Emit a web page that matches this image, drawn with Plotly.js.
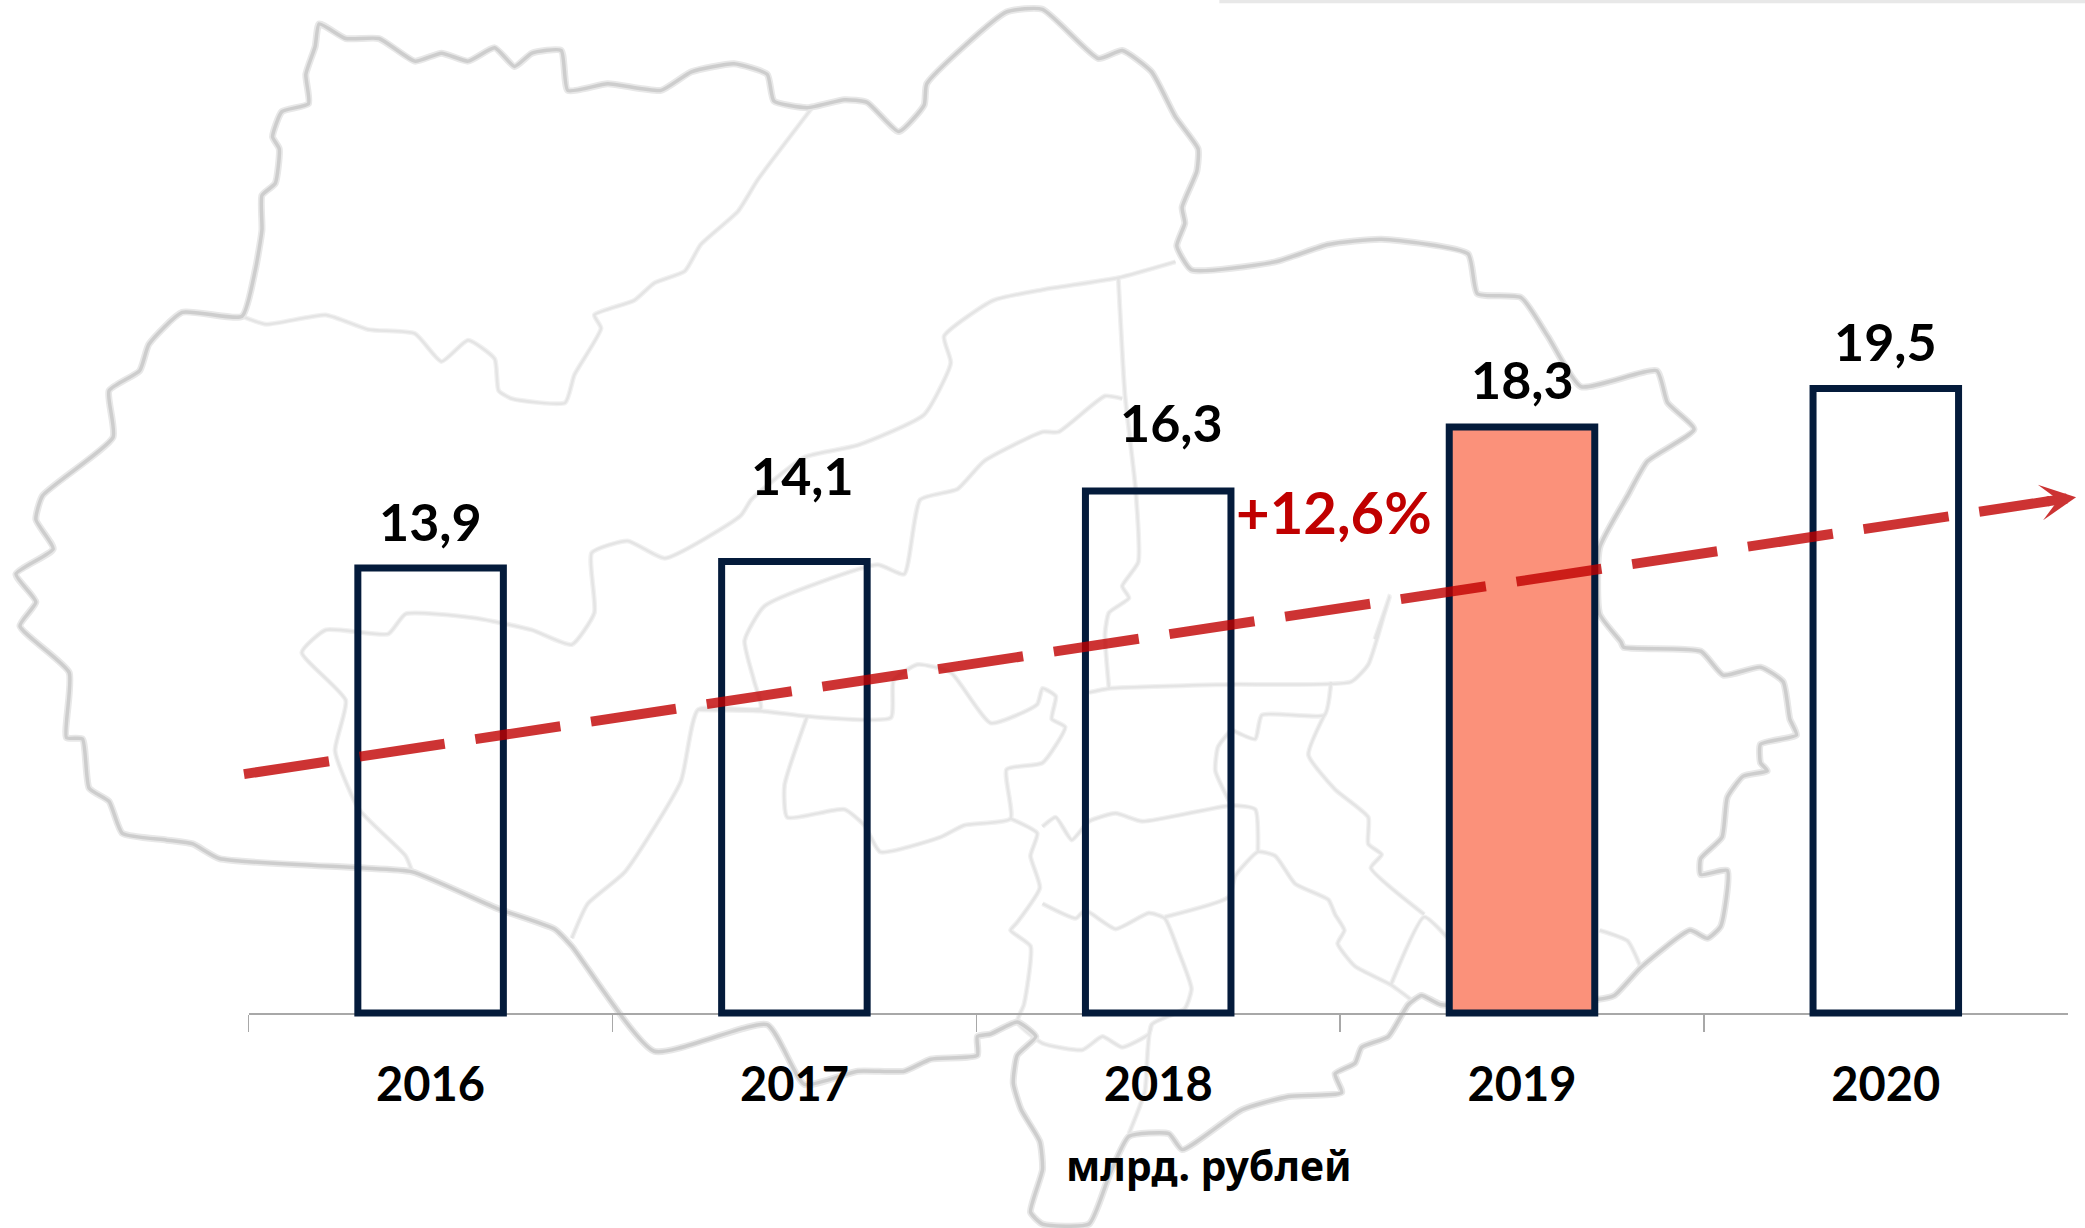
<!DOCTYPE html>
<html><head><meta charset="utf-8">
<script src="https://cdn.plot.ly/plotly-3.0.0.min.js"></script>
<style>html,body{margin:0;padding:0;background:#fff}#c{width:2085px;height:1228px}</style>
</head><body><div id="c"></div>
<script>
const years = ['2016','2017','2018','2019','2020'];
const values = [13.9,14.1,16.3,18.3,19.5];
const barFills = ['rgba(0,0,0,0)','rgba(0,0,0,0)','rgba(0,0,0,0)','#fb917a','rgba(0,0,0,0)'];
const labelLift = [47,87,69,48,48];
const labelNudge = [0,8,13,0,0];
const unitLabel = 'млрд. рублей';
const growthLabel = '+12,6%';
const trendX = [-0.513,4.451];
const trendY = [7.46,15.99];
const arrowTail = [4.44,15.97];
const arrowTip = [4.523,16.11];

// Background map outline, in the units of the 1568x924 picture
const mapOuter = [[240,18],[260,29],[285,29],[312,46],[332,40],[352,46],[372,36],[387,50],[400,40],[422,38],[427,68],[457,63],[497,68],[520,54],[552,48],[577,56],[582,76],[607,81],[635,75],[652,77],[676,99],[695,79],[697,63],[757,9],[784,7],[826,44],[844,38],[866,54],[884,88],[901,112],[900,129],[889,156],[891,168],[885,185],[896,203],[959,197],[999,184],[1039,180],[1104,191],[1111,221],[1144,224],[1164,253],[1189,291],[1246,279],[1254,303],[1274,323],[1239,347],[1224,373],[1203,412],[1203,462],[1219,483],[1221,487],[1279,490],[1296,508],[1324,502],[1341,513],[1346,541],[1351,553],[1324,560],[1324,574],[1329,580],[1311,584],[1299,600],[1295,630],[1279,646],[1279,658],[1299,655],[1294,697],[1284,706],[1271,700],[1234,728],[1214,749],[1201,752],[1084,756],[1069,749],[1059,756],[1044,780],[1024,788],[1019,800],[1004,808],[1009,822],[969,825],[934,835],[889,865],[879,853],[849,855],[834,885],[819,921],[784,921],[775,912],[784,880],[782,859],[768,835],[762,815],[765,794],[779,780],[765,769],[745,778],[735,780],[735,794],[700,797],[680,806],[645,806],[605,816],[577,771],[492,791],[430,712],[417,699],[375,684],[310,656],[270,653],[165,646],[145,635],[125,632],[92,627],[82,603],[67,593],[62,556],[50,555],[52,506],[15,471],[27,453],[12,432],[40,413],[27,391],[32,373],[85,329],[82,294],[105,279],[112,259],[137,235],[182,238],[192,203],[197,173],[197,147],[207,138],[210,112],[205,103],[212,84],[232,78],[230,56],[237,35],[240,18]];
const mapInnerA = [[182,238],[200,244],[245,237],[277,248],[312,251],[332,272],[352,256],[372,270],[375,294],[385,300],[425,303],[432,282],[452,247],[447,237],[477,226],[492,213],[515,204],[527,184],[555,159],[570,135],[610,82]];
const mapInnerB = [[884,197],[841,209],[784,218],[747,226],[710,253],[715,273],[695,312],[645,335],[605,344],[565,376],[557,388],[500,420],[472,407],[445,416],[447,461],[430,485],[400,474],[357,465],[305,462],[292,477],[245,474],[227,491],[260,527],[252,565],[270,609],[305,644],[310,656]];
const mapInnerC = [[841,209],[846,297],[854,368],[856,423],[844,441],[849,450],[834,461],[831,477],[834,518]];
const mapInnerD = [[819,521],[834,518],[924,515],[1016,513],[1029,500],[1041,462],[1045,449],[1034,481]];
const mapInnerE = [[844,300],[831,298],[796,325],[784,325],[740,347],[720,368],[692,376],[680,432],[660,425],[575,456],[560,482],[567,512],[572,533],[525,534],[512,588],[470,656],[442,680],[430,706]];
const mapInnerF = [[525,534],[572,535],[607,539],[670,540],[672,512],[690,500],[715,506],[745,544],[780,530],[784,518],[794,524],[791,541],[801,547],[784,574],[757,579],[760,616],[725,621],[707,630],[662,641],[650,621],[635,609],[592,615],[590,591],[607,539]];
const mapInnerG = [[760,616],[780,627],[775,644],[782,668],[765,694],[760,700],[775,712],[770,756],[765,769],[784,785],[814,790],[829,780],[844,788],[864,778],[866,771]];
const mapInnerH = [[784,680],[809,691],[816,685],[839,699],[864,687],[876,691],[886,715],[896,744],[891,759],[866,771],[861,821],[849,853]];
const mapInnerI = [[876,690],[924,675],[929,659],[946,641],[959,644],[974,665],[999,677],[1004,688],[1011,700],[1006,710],[1019,727],[1046,741],[1061,752]];
const mapInnerJ = [[1046,741],[1071,690],[1089,706]];
const mapInnerK = [[946,641],[944,609],[926,606],[859,618],[839,612],[819,618],[806,632],[794,615],[784,622]];
const mapInnerL = [[926,549],[916,562],[914,580],[926,606]];
const mapInnerM = [[926,549],[944,556],[949,538],[996,538],[1001,513]];
const mapInnerN = [[996,538],[984,568],[1004,594],[1029,615],[1029,635],[1039,643],[1031,653],[1071,688]];
const mapInnerO = [[1203,700],[1224,708],[1234,728]];
const topStrip = [[917,1],[1568,1]];

const inner = [mapInnerA,mapInnerB,mapInnerC,mapInnerD,mapInnerE,mapInnerF,mapInnerG,mapInnerH,mapInnerI,mapInnerJ,mapInnerK,mapInnerL,mapInnerM,mapInnerN,mapInnerO];
const mapTrace = (pts,color,width,shape) => ({type:'scatter',mode:'lines',x:pts.map(p=>p[0]),y:pts.map(p=>p[1]),xaxis:'x',yaxis:'y',
  line:{color,width,shape:shape||'spline',smoothing:0.5},hoverinfo:'skip',showlegend:false});

const traces = [];
inner.forEach(p=>traces.push(mapTrace(p,'#f1f1f1',5)));
inner.forEach(p=>traces.push(mapTrace(p,'#e4e4e4',2.5)));
traces.push(mapTrace(mapOuter,'#e8e8e8',7));
traces.push(mapTrace(mapOuter,'#cdcdcd',3.5));
traces.push(mapTrace(topStrip,'#e8e8e8',4,'linear'));

traces.push({type:'bar',x:years,y:values,xaxis:'x2',yaxis:'y2',showlegend:false,hoverinfo:'skip',
  marker:{color:barFills,line:{color:'#041b3b',width:7}}});
traces.push({type:'scatter',mode:'lines',x:trendX,y:trendY,xaxis:'x3',yaxis:'y3',showlegend:false,hoverinfo:'skip',
  line:{color:'rgba(192,0,0,0.8)',width:10,dash:'86px,31px'}});

const FONT = 'Lato, "Noto Sans", sans-serif';
const W=2085,H=1228,PX=32.02,BASE=1013,AX0=248.7,AX1=2067.7;
const CAT=(AX1-AX0)/5;
const yRange = [-(H-BASE)/PX, BASE/PX];

const annotations = years.map((yr,i)=>({xref:'x2',yref:'y2',x:i,y:values[i],xshift:labelNudge[i],yshift:labelLift[i],showarrow:false,
  yanchor:'middle',text:values[i].toFixed(1).replace('.',','),font:{family:FONT,size:52,color:'#000',weight:700}}));
annotations.push({xref:'paper',yref:'paper',x:1334/W,y:1-511/H,yanchor:'middle',xanchor:'center',showarrow:false,
  text:growthLabel,font:{family:FONT,size:58,color:'#c00000',weight:700}});
annotations.push({xref:'paper',yref:'paper',x:1209/W,y:1-1165/H,yanchor:'middle',xanchor:'center',showarrow:false,
  text:unitLabel,font:{family:'"Noto Sans", sans-serif',size:41,color:'#000',weight:700}});
annotations.push({xref:'x3',yref:'y3',axref:'x3',ayref:'y3',x:arrowTip[0],y:arrowTip[1],ax:arrowTail[0],ay:arrowTail[1],
  text:'',showarrow:true,arrowhead:3,arrowsize:0.6,arrowwidth:10,arrowcolor:'rgb(204,51,51)',standoff:0,startstandoff:0});

const layout = {width:W,height:H,margin:{l:0,r:0,t:0,b:0},paper_bgcolor:'#fff',plot_bgcolor:'rgba(0,0,0,0)',showlegend:false,
  bargap:0.6,annotations,
  xaxis:{domain:[0,1],range:[0,1568],visible:false,fixedrange:true},
  yaxis:{domain:[0,1],range:[924,0],visible:false,fixedrange:true},
  xaxis2:{domain:[AX0/W,AX1/W],type:'category',categoryorder:'array',categoryarray:years,range:[-0.5,4.5],anchor:'free',position:1-BASE/H,showline:true,linecolor:'#a8a8a8',linewidth:1.5,
    ticks:'outside',tickson:'boundaries',ticklen:17,tickwidth:1.5,tickcolor:'#a8a8a8',showgrid:false,zeroline:false,ticklabelstandoff:30,tickangle:0,
    tickfont:{family:FONT,size:47,color:'#000',weight:700},layer:'below traces'},
  yaxis2:{domain:[0,1],range:yRange,anchor:'x2',visible:false,showgrid:false,zeroline:false},
  xaxis3:{domain:[0,1],range:[-0.5-AX0/CAT,4.5+(W-AX1)/CAT],anchor:'y3',visible:false},
  yaxis3:{domain:[0,1],range:yRange,anchor:'x3',visible:false}
};
Plotly.newPlot('c',traces,layout,{displayModeBar:false,staticPlot:true});
</script></body></html>
